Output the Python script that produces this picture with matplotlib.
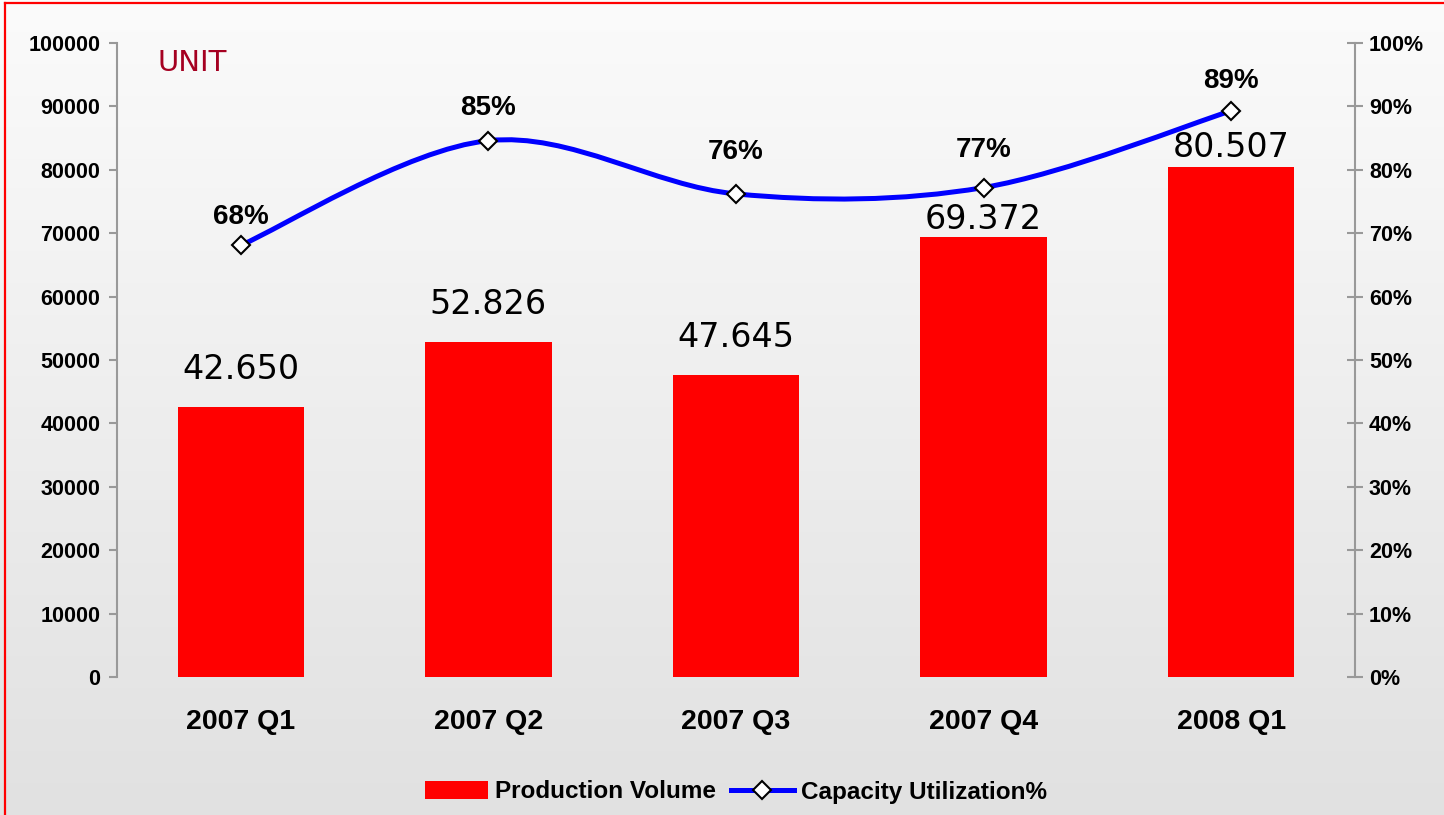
import numpy as np
import matplotlib
matplotlib.use("Agg")
import matplotlib.pyplot as plt
from matplotlib.path import Path
from matplotlib.patches import PathPatch, Patch
from matplotlib.lines import Line2D

quarters = ["2007 Q1", "2007 Q2", "2007 Q3", "2007 Q4", "2008 Q1"]
production = [42650, 52826, 47645, 69372, 80507]
production_labels = ["42.650", "52.826", "47.645", "69.372", "80.507"]
utilization = [0.681, 0.846, 0.762, 0.772, 0.893]

# label offsets (points) - some labels were nudged in the original
bar_label_pad = [15, 15, 15, 1, 2]
pct_label_pad = [11, 14, 21, 18, 12]

plt.rcParams['font.family'] = ['Liberation Sans', 'DejaVu Sans']

fig = plt.figure(figsize=(14.44, 8.15), dpi=100)

# gradient background
bg = fig.add_axes([0, 0, 1, 1], zorder=-10)
grad = np.linspace(0, 1, 256).reshape(-1, 1)
bg.imshow(grad, aspect='auto', cmap=matplotlib.colors.LinearSegmentedColormap.from_list(
    "bg", ["#fbfbfb", "#e1e1e1"]), extent=[0, 1, 1, 0])
bg.set_axis_off()

# red frame (left and top only visible)
fig.add_artist(Line2D([5 / 1444, 5 / 1444], [0, 1 - 3 / 815], color="red", lw=1.6, transform=fig.transFigure))
fig.add_artist(Line2D([5 / 1444, 1], [1 - 3 / 815, 1 - 3 / 815], color="red", lw=1.6, transform=fig.transFigure))

ax = fig.add_axes([117 / 1444, 1 - 677 / 815, (1355 - 117) / 1444, (677 - 43) / 815])
ax.patch.set_alpha(0)
x = np.arange(len(quarters))

bars = ax.bar(x, production, width=0.51, color="#ff0000", zorder=3)
for i, b in enumerate(bars):
    ax.annotate(production_labels[i], (b.get_x() + b.get_width() / 2, b.get_height()),
                xytext=(0, bar_label_pad[i]), textcoords="offset points",
                ha="center", va="bottom", fontsize=24, family="DejaVu Sans", color="black", zorder=2)

ax.set_xlim(-0.5, len(quarters) - 0.5)
ax.set_ylim(0, 100000)
ax.set_yticks(np.arange(0, 100001, 10000))
ax.set_yticklabels([str(v) for v in range(0, 100001, 10000)], fontsize=15.5, fontweight="bold")
ax.set_xticks(x)
ax.set_xticklabels(quarters, fontsize=20.5, fontweight="bold")
ax.tick_params(axis="x", length=0, pad=23)
ax.tick_params(axis="y", direction="out", length=6, color="#999999", width=1.5, pad=6)
for s in ["top", "bottom", "right"]:
    ax.spines[s].set_visible(False)
ax.spines["left"].set_color("#999999")
ax.spines["left"].set_linewidth(1.5)

ax.text(158 / 1444, 1 - 63 / 815, "UNIT", transform=fig.transFigure, fontsize=21,
        family="DejaVu Sans", color="#a50021", va="center", ha="left")

ax2 = ax.twinx()
ax2.set_ylim(0, 1)
ax2.set_yticks(np.arange(0, 1.01, 0.1))
ax2.set_yticklabels([f"{int(round(v * 100))}%" for v in np.arange(0, 1.01, 0.1)], fontsize=15.5, fontweight="bold")
ax2.tick_params(axis="y", direction="inout", length=12, color="#999999", width=1.5, pad=4)
for s in ["top", "bottom", "left"]:
    ax2.spines[s].set_visible(False)
ax2.spines["right"].set_color("#999999")
ax2.spines["right"].set_linewidth(1.5)

# smoothed line (Catmull-Rom as cubic Bezier, like Excel's smoothed line)
pts = np.column_stack([x, utilization]).astype(float)
ext = np.vstack([pts[0], pts, pts[-1]])
verts = [tuple(pts[0])]
codes = [Path.MOVETO]
for i in range(len(pts) - 1):
    p0, p1, p2, p3 = ext[i], ext[i + 1], ext[i + 2], ext[i + 3]
    c1 = p1 + (p2 - p0) / 6
    c2 = p2 - (p3 - p1) / 6
    verts += [tuple(c1), tuple(c2), tuple(p2)]
    codes += [Path.CURVE4] * 3
ax2.add_patch(PathPatch(Path(verts, codes), facecolor="none", edgecolor="#0000ff", lw=3.6, zorder=4))
ax2.plot(x, utilization, linestyle="none", marker="D", markersize=9, markerfacecolor="white",
         markeredgecolor="black", markeredgewidth=1.5, zorder=5)
for i, v in enumerate(utilization):
    ax2.annotate(f"{v:.0%}", (x[i], v), xytext=(0, pct_label_pad[i]), textcoords="offset points",
                 ha="center", va="bottom", fontsize=20, fontweight="bold")

handles = [Patch(facecolor="#ff0000", edgecolor="none"),
           Line2D([], [], color="#0000ff", lw=3.6, marker="D", markersize=9,
                  markerfacecolor="white", markeredgecolor="black", markeredgewidth=1.5)]
fig.legend(handles, ["Production Volume", "Capacity Utilization%"], loc="center",
           bbox_to_anchor=(736 / 1444, 1 - 792 / 815), ncol=2, frameon=False,
           prop={"size": 17.5, "weight": "bold"}, handlelength=2.6, handletextpad=0.3, columnspacing=0.6)

fig.savefig("out.png", dpi=100)
